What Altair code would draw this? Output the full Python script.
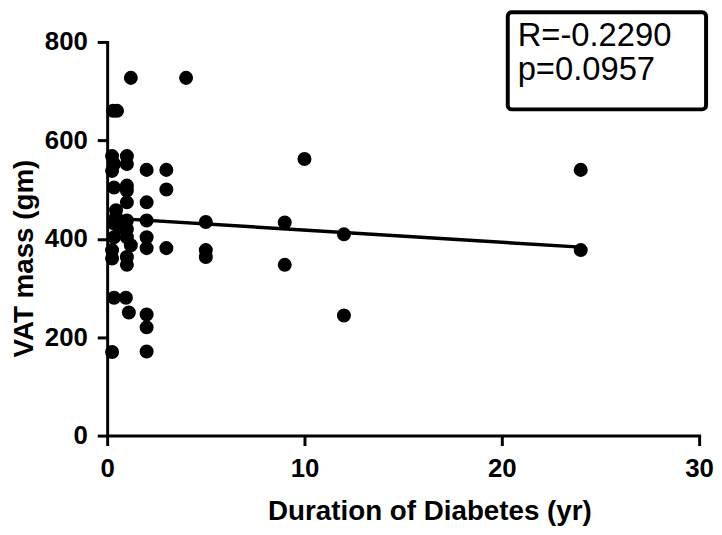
import altair as alt
import pandas as pd

# ---- data ----
duration_yr = [0.3, 0.5, 0.25, 0.35, 0.25, 0.35, 0.45, 0.45, 0.35, 0.6, 0.35, 0.25, 0.25, 0.35, 0.25,
               1.2, 1.0, 1.0, 1.0, 1.0, 1.0, 1.0, 1.0, 1.0, 1.2, 1.0, 1.0, 0.95, 1.1,
               2, 2, 2, 2, 2, 2, 2, 2,
               3, 3, 3,
               4,
               5, 5, 5,
               9, 9,
               10,
               12, 12,
               24, 24]
vat_mass_gm = [660, 660, 568, 552, 538, 504, 458, 444, 431, 423, 403, 377, 360, 280, 170,
               727, 568, 552, 508, 498, 474, 437, 420, 403, 387, 363, 347, 280, 250,
               540, 474, 437, 403, 381, 246, 220, 171,
               540, 500, 381,
               727,
               434, 377, 363,
               433, 347,
               562,
               409, 244,
               540, 377]
fit_duration = [0.2, 24]
fit_vat = [442, 383]
stats_lines = ["R=-0.2290", "p=0.0957"]
x_ticks = [0, 10, 20, 30]
y_ticks = [0, 200, 400, 600, 800]

pts = pd.DataFrame({"duration": duration_yr, "vat": vat_mass_gm})
fit = pd.DataFrame({"duration": fit_duration, "vat": fit_vat})
one = pd.DataFrame({"k": [0]})

FONT = "Liberation Sans"
xscale = alt.Scale(domain=[0, 30], nice=False, zero=False)
yscale = alt.Scale(domain=[0, 800], nice=False)

xenc = alt.X("duration:Q", scale=xscale,
             axis=alt.Axis(values=x_ticks, title="Duration of Diabetes (yr)",
                           titlePadding=17, titleX=325))
yenc = alt.Y("vat:Q", scale=yscale,
             axis=alt.Axis(values=y_ticks, title="VAT mass (gm)", titlePadding=6, titleY=218))

points = alt.Chart(pts).mark_circle(size=200, color="black", opacity=1).encode(x=xenc, y=yenc)
line = alt.Chart(fit).mark_line(color="black", strokeWidth=3.5).encode(x=xenc, y=yenc)

box = alt.Chart(one).mark_rect(fill="white", stroke="black", strokeWidth=4, cornerRadius=4).encode(
    x=alt.value(404), x2=alt.value(604), y=alt.value(-30), y2=alt.value(68))
txt = alt.Chart(one).mark_text(text=stats_lines, align="left", baseline="alphabetic",
                               font=FONT, fontSize=33, lineHeight=34, color="black").encode(
    x=alt.value(414), y=alt.value(4))

chart = alt.layer(line, points, box, txt).properties(
    width=597, height=397,
    autosize=alt.AutoSizeParams(type="none"),
    padding={"left": 100, "top": 32, "right": 15, "bottom": 97},
).configure_view(stroke=None).configure_axis(
    grid=False, domainColor="black", domainWidth=3, tickColor="black", tickWidth=3, tickSize=10,
    labelPadding=10, labelFont=FONT, labelFontSize=26, labelFontWeight="bold", labelColor="black",
    titleFont=FONT, titleFontSize=28, titleFontWeight="bold", titleColor="black",
    domainCap="square", labelFlush=False, labelOverlap=False,
)

chart.save("out.html", embed_options={"renderer": "svg", "actions": False})
